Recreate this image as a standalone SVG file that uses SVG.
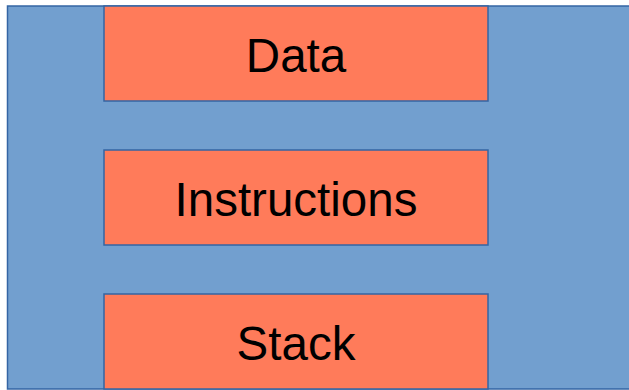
<svg xmlns="http://www.w3.org/2000/svg" width="629" height="390" viewBox="0 0 629 390">
<style>
.outer{fill:#729fcf;stroke:#3465a4;stroke-width:1.5}
.box{fill:#ff7b5a;stroke:#3465a4;stroke-width:1.5}
.lbl{font-family:"Liberation Sans",Arial,sans-serif;font-size:47.5px;fill:#000;text-anchor:middle}
</style>
<g id="memory"><rect class="outer" x="7.5" y="6" width="640" height="383"/></g>
<g id="data"><rect class="box" x="104" y="6" width="384" height="95"/><text class="lbl" x="296" y="72">Data</text></g>
<g id="instructions"><rect class="box" x="104" y="150" width="384" height="95"/><text class="lbl" x="296" y="216">Instructions</text></g>
<g id="stack"><rect class="box" x="104" y="294" width="384" height="95"/><text class="lbl" x="296" y="360">Stack</text></g>
<g id="connectors"/>
</svg>
